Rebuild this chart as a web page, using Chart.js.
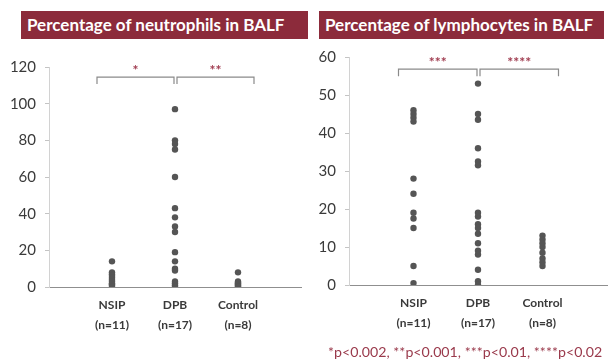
<!DOCTYPE html>
<html>
<head>
<meta charset="utf-8">
<script src="https://cdn.jsdelivr.net/npm/chart.js@4/dist/chart.umd.min.js"></script>
<style>
  html, body { margin: 0; padding: 0; background: #fff; }
  body { width: 616px; height: 362px; position: relative; overflow: hidden; font-family: Lato, "Liberation Sans", sans-serif; }
  .title { position: absolute; top: 11px; height: 28px; line-height: 28px; background: #8c2b3b; color: #fff;
           font-weight: bold; font-size: 17px; padding-left: 6px; box-sizing: border-box; white-space: nowrap; }
  .panel { position: absolute; top: 0; width: 308px; height: 362px; }
  .note { position: absolute; left: 328px; top: 343px; font-size: 14.2px; color: #9a3a4c; white-space: nowrap; }
</style>
</head>
<body>
<div class="title" style="left:21px;width:287px">Percentage of neutrophils in BALF</div>
<div class="title" style="left:319px;width:285px">Percentage of lymphocytes in BALF</div>
<div class="panel" style="left:0"><canvas id="neut" width="308" height="362"></canvas></div>
<div class="panel" style="left:308px"><canvas id="lymph" width="308" height="362"></canvas></div>
<div class="note">*p&lt;0.002, **p&lt;0.001, ***p&lt;0.01, ****p&lt;0.02</div>
<script>
// Groups on the x axis
const groups = ['NSIP', 'DPB', 'Control'];
const groupSizes = ['(n=11)', '(n=17)', '(n=8)'];

// Neutrophils in BALF (%)
const neutNSIP = [14, 8, 7, 6, 5, 4, 3, 2, 1.5, 1, 0];
const neutDPB = [97, 80, 78, 75, 60, 43, 38, 33, 30, 19, 14, 10, 9, 3, 2, 1, 0];
const neutControl = [8, 3, 2.5, 2, 1.5, 1, 0.5, 0];
const neutTicks = [0, 20, 40, 60, 80, 100, 120];

// Lymphocytes in BALF (%)
const lymphNSIP = [46, 45, 44, 43, 28, 24, 19, 17.5, 15, 5, 0.5];
const lymphDPB = [53, 45, 43.5, 36, 32.5, 31.5, 19, 18, 16, 15, 13.5, 11, 9, 8, 4, 1, 0];
const lymphControl = [13, 12, 11, 10, 8.5, 7, 6, 5];
const lymphTicks = [0, 10, 20, 30, 40, 50, 60];

// Pairwise comparisons (group indices) and their significance marks
const neutComparisons = [{ from: 0, to: 1, mark: '*' }, { from: 1, to: 2, mark: '**' }];
const lymphComparisons = [{ from: 0, to: 1, mark: '***' }, { from: 1, to: 2, mark: '****' }];

const FONT = 'Lato, "Liberation Sans", sans-serif';

function toPoints(values, groupIndex) {
  return values.map(v => ({ x: groupIndex + 1, y: v }));
}

// Draws the brackets and star marks above the groups
const bracketPlugin = {
  id: 'brackets',
  afterDatasetsDraw(chart, args, opts) {
    const { ctx, scales: { x, y } } = chart;
    const top = y.getPixelForValue(opts.level);
    ctx.save();
    ctx.strokeStyle = '#8a8a8a';
    ctx.lineWidth = 1.2;
    opts.comparisons.forEach((c, i) => {
      const xa = x.getPixelForValue(c.from + 1);
      const xb = x.getPixelForValue(c.to + 1);
      const x0 = i === 0 ? xa - 15 : xa + 2;
      const x1 = i === 0 ? xb - 1 : xb + 16;
      ctx.beginPath();
      ctx.moveTo(x0, top + 7);
      ctx.lineTo(x0, top);
      ctx.lineTo(x1, top);
      ctx.lineTo(x1, top + 7);
      ctx.stroke();
      ctx.fillStyle = '#a03c50';
      ctx.font = 'bold 14px ' + FONT;
      ctx.textAlign = 'center';
      ctx.textBaseline = 'middle';
      ctx.fillText(c.mark, (x0 + x1) / 2, top - 7);
    });
    ctx.restore();
  }
};

function makeChart(id, series, ticks, comparisons, level, padding) {
  const colors = '#555555';
  return new Chart(document.getElementById(id), {
    type: 'scatter',
    data: {
      datasets: series.map((vals, i) => ({
        label: groups[i],
        data: toPoints(vals, i),
        pointStyle: 'circle',
        pointRadius: 3.2,
        backgroundColor: colors,
        borderColor: colors,
        borderWidth: 0
      }))
    },
    options: {
      responsive: false,
      animation: false,
      layout: { padding },
      plugins: {
        legend: { display: false },
        tooltip: { enabled: false },
        brackets: { comparisons, level }
      },
      scales: {
        x: {
          type: 'linear',
          min: 0,
          max: 4,
          afterBuildTicks: axis => { axis.ticks = groups.map((g, i) => ({ value: i + 1 })); },
          afterFit: axis => { axis.height = 50; },
          ticks: {
            autoSkip: false,
            maxRotation: 0,
            padding: 9,
            color: '#3a3a3a',
            font: { family: FONT, size: 12, weight: 'bold', lineHeight: 1.6 },
            callback: (v, i) => [groups[i], groupSizes[i]]
          },
          grid: { drawOnChartArea: false, drawTicks: false },
          border: { color: '#8f8f8f', width: 1, dash: [3, 2] }
        },
        y: {
          min: ticks[0],
          max: ticks[ticks.length - 1],
          afterBuildTicks: axis => { axis.ticks = ticks.map(v => ({ value: v })); },
          afterFit: axis => { axis.width = 40; },
          ticks: {
            padding: 9,
            color: '#3a3a3a',
            font: { family: FONT, size: 15 }
          },
          grid: { drawOnChartArea: false, drawTicks: true, tickLength: 4, color: '#c4c4c4' },
          border: { color: '#d2d2d2', width: 1 }
        }
      }
    },
    plugins: [bracketPlugin]
  });
}

makeChart('neut', [neutNSIP, neutDPB, neutControl], neutTicks, neutComparisons, 114.5,
  { left: 9, top: 67, right: 7, bottom: 25 });
makeChart('lymph', [lymphNSIP, lymphDPB, lymphControl], lymphTicks, lymphComparisons, 56.8,
  { left: 1, top: 57, right: 9, bottom: 27 });
</script>
</body>
</html>
